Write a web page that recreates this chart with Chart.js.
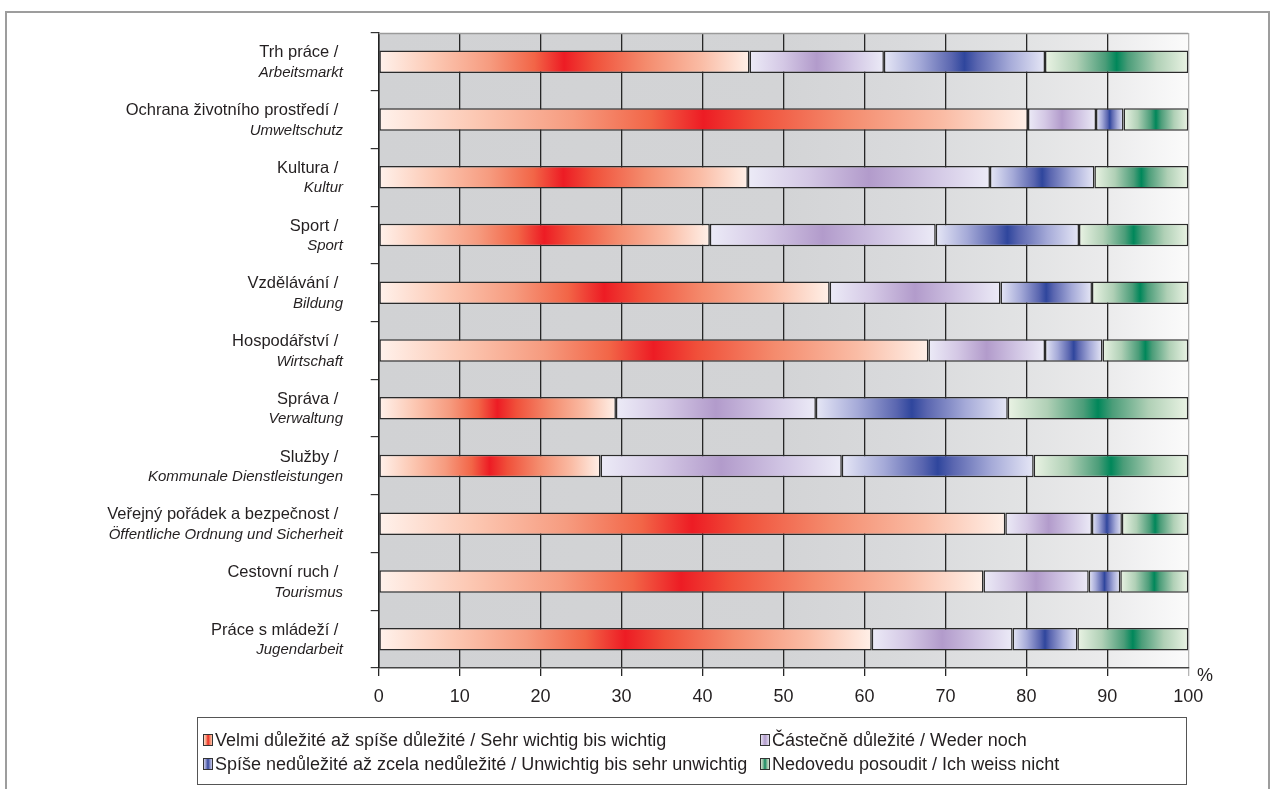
<!DOCTYPE html>
<html>
<head>
<meta charset="utf-8">
<script src="https://cdn.jsdelivr.net/npm/chart.js@4/dist/chart.umd.min.js"></script>
<style>
  html, body { margin: 0; padding: 0; background: #fff; }
  #wrap { position: relative; width: 1277px; height: 789px; overflow: hidden; }
  #frame {
    position: absolute; left: 5px; top: 11px; width: 1265px; height: 820px;
    border: 2px solid #9d9d9d; box-sizing: border-box;
  }
  #myBarChart { position: absolute; left: 0; top: 0; }
</style>
</head>
<body>
<div id="wrap">
  <div id="frame"></div>
  <canvas id="myBarChart" width="1277" height="789"></canvas>
</div>
<script>
// categories: Czech line / German line (italic)
const categoriesCz = [
  "Trh práce /",
  "Ochrana životního prostředí /",
  "Kultura /",
  "Sport /",
  "Vzdělávání /",
  "Hospodářství /",
  "Správa /",
  "Služby /",
  "Veřejný pořádek a bezpečnost /",
  "Cestovní ruch /",
  "Práce s mládeží /",
];
const categoriesDe = [
  "Arbeitsmarkt",
  "Umweltschutz",
  "Kultur",
  "Sport",
  "Bildung",
  "Wirtschaft",
  "Verwaltung",
  "Kommunale Dienstleistungen",
  "Öffentliche Ordnung und Sicherheit",
  "Tourismus",
  "Jugendarbeit",
];

const seriesLabels = [
  "Velmi důležité až spíše důležité / Sehr wichtig bis wichtig",
  "Částečně důležité / Weder noch",
  "Spíše nedůležité až zcela nedůležité / Unwichtig bis sehr unwichtig",
  "Nedovedu posoudit / Ich weiss nicht",
];

// values in %
const veryImportant = [45.8, 80.2, 45.6, 40.9, 55.7, 67.9, 29.3, 27.4, 77.4, 74.7, 60.9];
const partly = [16.6, 8.4, 29.9, 27.9, 21.1, 14.4, 24.7, 29.8, 10.7, 13.0, 17.4];
const unimportant = [19.9, 3.4, 12.9, 17.7, 11.3, 7.1, 23.7, 23.7, 3.7, 3.9, 8.0];
const dontKnow = [17.7, 8.0, 11.6, 13.5, 11.9, 10.6, 22.3, 19.1, 8.2, 8.4, 13.7];

const xTicks = [0, 10, 20, 30, 40, 50, 60, 70, 80, 90, 100];

const FONT = "'Liberation Sans', Arial, sans-serif";
const TEXT = "#231f20";

// gradient stops per series (light edge -> strong centre -> light edge)
const gradStops = [
  [[0, "#fff2ec"], [0.15, "#fcc8b3"], [0.3, "#f69b7f"], [0.42, "#f26547"], [0.5, "#ed1c24"],
   [0.58, "#f0503a"], [0.72, "#f48b6d"], [0.87, "#fabca5"], [1, "#fff0e8"]],
  [[0, "#ecebf7"], [0.25, "#d4c8e5"], [0.5, "#b29bcb"], [0.75, "#d0c4e3"], [1, "#ecebf7"]],
  [[0, "#e6e7f6"], [0.22, "#a5aad8"], [0.42, "#5a66b0"], [0.5, "#2f469d"], [0.58, "#5a66b0"],
   [0.78, "#a5aad8"], [1, "#e6e7f6"]],
  [[0, "#eaf3e4"], [0.22, "#b0d0b6"], [0.42, "#4b9d79"], [0.5, "#00875a"], [0.58, "#4b9d79"],
   [0.78, "#b0d0b6"], [1, "#eaf3e4"]],
];
const fallbackColors = ["#ed1c24", "#b29bcb", "#2f469d", "#00875a"];

const allSeries = [veryImportant, partly, unimportant, dontKnow];

function segmentFill(context) {
  const chart = context.chart;
  const xScale = chart.scales.x;
  const d = context.datasetIndex;
  const i = context.dataIndex;
  if (!chart.chartArea || !xScale || i === undefined) return fallbackColors[d];
  let start = 0;
  for (let k = 0; k < d; k++) start += allSeries[k][i];
  const end = start + allSeries[d][i];
  const x0 = xScale.getPixelForValue(start);
  const x1 = xScale.getPixelForValue(end);
  const g = chart.ctx.createLinearGradient(x0, 0, x1, 0);
  gradStops[d].forEach(([p, c]) => g.addColorStop(p, c));
  return g;
}

const plotDecor = {
  id: "plotDecor",
  beforeDraw(chart) {
    const { ctx, chartArea: a } = chart;
    const g = ctx.createLinearGradient(a.left, 0, a.right, 0);
    g.addColorStop(0, "#d1d2d4");
    g.addColorStop(0.5, "#d3d4d6");
    g.addColorStop(0.65, "#d9dadc");
    g.addColorStop(0.8, "#e2e3e4");
    g.addColorStop(0.9, "#ebebec");
    g.addColorStop(1, "#fbfbfb");
    ctx.save();
    ctx.fillStyle = g;
    ctx.fillRect(a.left, a.top, a.right - a.left, a.bottom - a.top);
    ctx.restore();
  },
  afterDraw(chart) {
    const { ctx, chartArea: a } = chart;
    const yScale = chart.scales.y;
    ctx.save();
    // top edge of plot
    ctx.strokeStyle = "#9a9a9a";
    ctx.lineWidth = 1.5;
    ctx.beginPath();
    ctx.moveTo(a.left, a.top + 0.5);
    ctx.lineTo(a.right, a.top + 0.5);
    ctx.stroke();

    // category labels (two lines, second italic)
    ctx.fillStyle = TEXT;
    ctx.textAlign = "right";
    ctx.textBaseline = "middle";
    categoriesCz.forEach((cz, i) => {
      const y = yScale.getPixelForValue(i);
      ctx.font = "16.5px " + FONT;
      ctx.fillText(cz + " ", 343, y - 9);
      ctx.font = "italic 15px " + FONT;
      ctx.fillText(categoriesDe[i], 343, y + 11);
    });

    // percent sign
    ctx.font = "18px " + FONT;
    ctx.textAlign = "center";
    ctx.fillText("%", 1205, a.bottom + 8);

    // legend
    const box = { left: 197.5, top: 717.5, right: 1186.5, bottom: 784.5 };
    ctx.strokeStyle = "#555";
    ctx.lineWidth = 1;
    ctx.strokeRect(box.left, box.top, box.right - box.left, box.bottom - box.top);
    const pos = [
      [203, 740], [760, 740],
      [203, 764], [760, 764],
    ];
    ctx.textAlign = "left";
    ctx.font = "18px " + FONT;
    chart.data.datasets.forEach((ds, d) => {
      const [sx, sy] = pos[d];
      const w = 10, h = 12;
      const g = ctx.createLinearGradient(sx, 0, sx + w, 0);
      gradStops[d].forEach(([p, c]) => g.addColorStop(p, c));
      ctx.fillStyle = g;
      ctx.fillRect(sx, sy - h / 2, w, h);
      ctx.strokeStyle = "#333";
      ctx.strokeRect(sx + 0.5, sy - h / 2 + 0.5, w - 1, h - 1);
      ctx.fillStyle = TEXT;
      ctx.fillText(ds.label, sx + 12, sy + 1);
    });
    ctx.restore();
  },
};

const ctx = document.getElementById("myBarChart").getContext("2d");

const myBarChart = new Chart(ctx, {
  type: "bar",
  data: {
    labels: categoriesCz.map((c, i) => c + " " + categoriesDe[i]),
    datasets: allSeries.map((values, d) => ({
      label: seriesLabels[d],
      data: values,
      backgroundColor: segmentFill,
      borderColor: "#2b2b2b",
      borderWidth: 1.5,
      borderSkipped: false,
      categoryPercentage: 1,
      barPercentage: 0.39,
    })),
  },
  options: {
    indexAxis: "y",
    responsive: false,
    animation: false,
    devicePixelRatio: 1,
    layout: {
      padding: { left: 0, top: 33, right: 88.7, bottom: 0 },
    },
    plugins: {
      legend: { display: false },
      tooltip: { enabled: false },
      title: { display: false },
    },
    scales: {
      x: {
        stacked: true,
        min: 0,
        max: 100,
        afterFit: (s) => { s.height = 121; },
        afterBuildTicks: (s) => { s.ticks = xTicks.map((v) => ({ value: v })); },
        ticks: {
          color: TEXT,
          font: { family: FONT, size: 18 },
          padding: 10,
          maxRotation: 0,
        },
        grid: {
          color: (c) => (c.tick && c.tick.value === 100 ? "#b5b5b5" : "#262626"),
          lineWidth: 1.3,
          drawTicks: true,
          tickLength: 8,
        },
        border: { display: true, color: "#444", width: 1.5 },
      },
      y: {
        stacked: true,
        afterFit: (s) => { s.width = 378.7; },
        ticks: { display: false },
        grid: {
          drawOnChartArea: false,
          drawTicks: true,
          tickLength: 8,
          color: "#333",
          lineWidth: 1.2,
        },
        border: { display: true, color: "#222", width: 1.5 },
      },
    },
  },
  plugins: [plotDecor],
});
</script>
</body>
</html>
